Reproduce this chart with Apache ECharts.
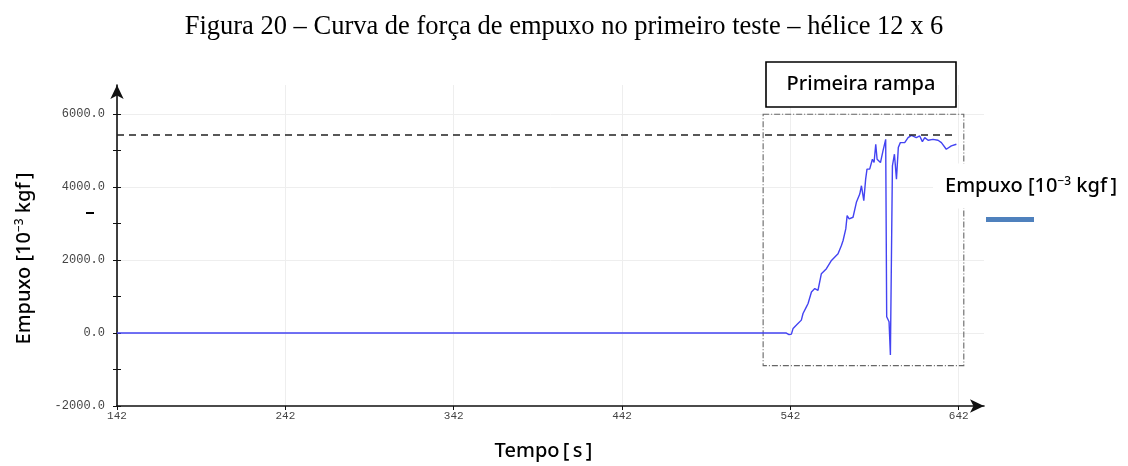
<!DOCTYPE html>
<html><head><meta charset="utf-8">
<script src="https://cdn.jsdelivr.net/npm/echarts@6/dist/echarts.min.js"></script>
<style>html,body{margin:0;padding:0;background:#fff}#c{width:1128px;height:466px}</style>
</head><body><div id="c"></div>
<script>
// ---- data ----
const titleText = 'Figura 20 – Curva de força de empuxo no primeiro teste – hélice 12 x 6';
const seriesName = 'Empuxo [10⁻³ kgf]';
const xTicks = [142, 242, 342, 442, 542, 642];
const yLabelTicks = [-2000, 0, 2000, 4000, 6000];
const yMinorTicks = [-2000, -1000, 0, 1000, 2000, 3000, 4000, 5000, 6000];
const time = [142, 250, 350, 450, 539.6, 541.2, 542.6, 543.6, 544.6, 545.6, 548.5, 549.5, 551.5, 552.5, 554.5, 556.5, 558.4, 560.4, 563.4, 566.4, 570.3, 572.3, 573.3, 574.9, 575.7, 576.9, 579.2, 581.2, 583.2, 584.2, 585.6, 586.7, 587.5, 589.1, 590.7, 591.7, 592.7, 593.5, 595.5, 597.0, 598.6, 599.2, 600.6, 601.4, 602.6, 603.8, 605.0, 606.1, 607.3, 609.9, 611.9, 613.9, 616.8, 618.8, 620.4, 621.8, 623.8, 626.7, 629.7, 631.7, 634.6, 637.6, 640.6];
const thrust = [0, 0, 0, 0, 0, -45, -30, 127, 82, 218, 354, 536, 718, 809, 1127, 1218, 1173, 1628, 1764, 1991, 2173, 2401, 2537, 2855, 3219, 3128, 3174, 3583, 3810, 4038, 3629, 4220, 4493, 4493, 4765, 4674, 5175, 4765, 4674, 4993, 5311, 445, 309, -601, 4583, 4902, 4220, 5084, 5220, 5220, 5357, 5420, 5357, 5402, 5247, 5357, 5284, 5311, 5284, 5220, 5038, 5129, 5175];
const refLevel = 5440;            // dashed reference line
const refLineX = [142, 640.6];
const rampBoxX = [525.8, 645.0];  // dash-dot region
const rampBoxY = [-892, 6000];
const rampLabel = 'Primeira rampa';
const xName = 'Tempo\u2009[\u2009s\u2009]';
const yNameRich = '{a|Empuxo [10}{s|−3}{a| kgf\u2009]}';

const chart = echarts.init(document.getElementById('c'), null, {renderer: 'canvas'});
const monoFont = 'Liberation Mono';
const sansFont = 'Noto Sans';
const gridTop = 85, gridBottom = 59, gridLeft = 117, gridRight = 144;
const richName = {
  a: {fontFamily: sansFont, fontSize: 20, fontWeight: 500, color: '#000'},
  s: {fontFamily: sansFont, fontSize: 12, fontWeight: 500, color: '#000', verticalAlign: 'top', padding: [0, 0, 9, 0]}
};

const option = {
  animation: false,
  backgroundColor: '#fff',
  title: {
    text: titleText, left: 'center', top: 9,
    textStyle: {fontFamily: 'Liberation Serif', fontSize: 26.5, fontWeight: 'normal', color: '#000'}
  },
  legend: {
    left: 986, top: 217, itemWidth: 48, itemHeight: 5, padding: 0,
    formatter: () => '',
    data: [{name: seriesName, icon: 'rect', itemStyle: {color: '#4F81BD'}}]
  },
  grid: {left: gridLeft, right: gridRight, top: gridTop, bottom: gridBottom, containLabel: false},
  xAxis: [{
    type: 'value', min: 142, max: 657,
    name: xName, nameLocation: 'middle', nameGap: 35,
    nameTextStyle: {fontFamily: sansFont, fontSize: 20, fontWeight: 500, color: '#000', padding: [0, 14, 0, 0]},
    axisLine: {onZero: false, lineStyle: {color: '#111', width: 1.6}, symbol: ['none', 'arrow'], symbolSize: [10, 14]},
    axisTick: {show: true, customValues: xTicks, length: 4, lineStyle: {color: '#111'}},
    axisLabel: {customValues: xTicks, fontFamily: monoFont, fontSize: 11, color: '#444', margin: 5},
    splitLine: {show: true, lineStyle: {color: '#eeeeee', width: 1}}
  }],
  yAxis: [{
    type: 'value', min: -2000, max: 6800, position: 'left',
    name: yNameRich, nameLocation: 'middle', nameGap: 82, nameRotate: 90,
    nameTextStyle: {rich: richName, padding: [0, 26, 0, 0]},
    axisLine: {onZero: false, lineStyle: {color: '#111', width: 1.6}, symbol: ['none', 'arrow'], symbolSize: [10, 14]},
    axisTick: {show: true, customValues: yMinorTicks, length: 4, lineStyle: {color: '#111'}},
    axisLabel: {customValues: yLabelTicks, fontFamily: monoFont, fontSize: 12, color: '#444', margin: 12,
      formatter: v => v.toFixed(1)},
    splitLine: {show: false}
  }, {
    type: 'value', min: -2000, max: 6800, position: 'left',
    axisLine: {show: false, onZero: false},
    axisTick: {show: true, inside: true, customValues: yMinorTicks, length: 4, lineStyle: {color: '#111'}},
    axisLabel: {show: false},
    splitLine: {show: false}
  }, {
    type: 'value', min: -2000, max: 6800, position: 'left',
    axisLine: {show: false, onZero: false},
    axisTick: {show: false, customValues: yLabelTicks.slice(1)},
    axisLabel: {show: false},
    splitLine: {show: true, lineStyle: {color: '#eeeeee', width: 1}}
  }],
  series: [{
    name: seriesName, type: 'line', xAxisIndex: 0, yAxisIndex: 0,
    data: time.map((t, i) => [t, thrust[i]]),
    showSymbol: false, symbol: 'none',
    lineStyle: {color: '#4343f2', width: 1.4},
    itemStyle: {color: '#4343f2'},
    z: 3,
    markLine: {
      silent: true, symbol: 'none', label: {show: false},
      lineStyle: {color: '#222', type: [7, 5], width: 1.5},
      data: [[{coord: [refLineX[0], refLevel]}, {coord: [refLineX[1], refLevel]}]]
    },
    markArea: {
      silent: true, label: {show: false},
      itemStyle: {color: 'rgba(0,0,0,0)', borderColor: '#666', borderWidth: 1.1, borderType: [6, 2, 1, 2]},
      data: [[{coord: [rampBoxX[0], rampBoxY[1]]}, {coord: [rampBoxX[1], rampBoxY[0]]}]]
    }
  }],
  graphic: [
    {type: 'rect', shape: {x: 766, y: 62, width: 190, height: 45},
     style: {fill: '#fff', stroke: '#000', lineWidth: 1.6}, z: 10},
    {type: 'text', x: 861, y: 84, z: 11,
     style: {text: rampLabel, fontFamily: sansFont, fontSize: 20, fontWeight: 500, fill: '#000', align: 'center', verticalAlign: 'middle'}},
    {type: 'text', x: 1031, y: 186, z: 11,
     style: {text: yNameRich, align: 'center', verticalAlign: 'middle',
       backgroundColor: '#fff', padding: [12, 12, 12, 12],
       rich: {
         a: {fontFamily: sansFont, fontSize: 20, fontWeight: 500, fill: '#000'},
         s: {fontFamily: sansFont, fontSize: 12, fontWeight: 500, fill: '#000', verticalAlign: 'top', padding: [0, 0, 9, 0]}
       }}},
    {type: 'rect', shape: {x: 86, y: 212, width: 8, height: 2}, style: {fill: '#000'}, z: 10}
  ]
};
chart.setOption(option);
</script>
</body></html>
